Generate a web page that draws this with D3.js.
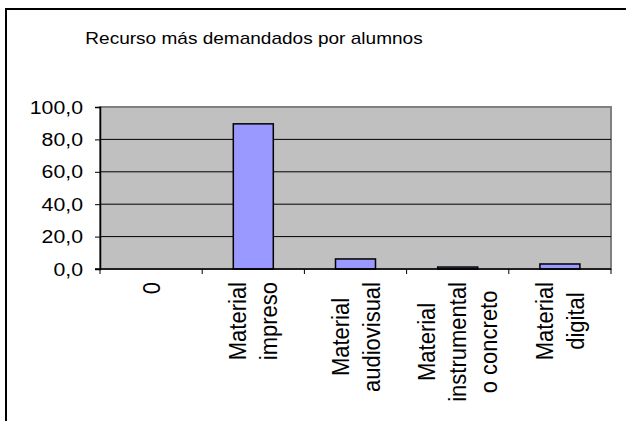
<!DOCTYPE html>
<html>
<head>
<meta charset="utf-8">
<script src="https://cdn.jsdelivr.net/npm/d3@7"></script>
<style>
  body { margin: 0; background: #fff; }
  text { font-family: "Liberation Sans", Arial, sans-serif; fill: #000; }
</style>
</head>
<body>
<script>
var title = "Recurso más demandados por alumnos";
var categories = ["0", "Material\nimpreso", "Material\naudiovisual", "Material\ninstrumental\no concreto", "Material\ndigital"];
var values = [0, 89.6, 6.2, 1.2, 3.1];
var yTicks = [0, 20, 40, 60, 80, 100];

draw();

function draw() {
    var width = 626, height = 421;
    var plot = {left: 100, right: 611, top: 107, bottom: 269};
    var stretch = 1.12; // text in the reference is a bit wider than tall

    var svg = d3.select("body").append("svg")
        .attr("width", width)
        .attr("height", height);

    // outer chart frame (only top and left visible in crop)
    svg.append("line").attr("x1", 5).attr("x2", 626).attr("y1", 9).attr("y2", 9)
        .attr("stroke", "#000").attr("stroke-width", 2);
    svg.append("line").attr("x1", 6).attr("x2", 6).attr("y1", 9).attr("y2", 421)
        .attr("stroke", "#000").attr("stroke-width", 2);

    svg.append("text")
        .attr("transform", "translate(254,44) scale(" + stretch + ",1)")
        .attr("text-anchor", "middle")
        .style("font-size", "17px")
        .text(title);

    var x = d3.scaleBand()
        .domain(categories)
        .range([plot.left, plot.right])
        .paddingInner(0)
        .paddingOuter(0);

    var y = d3.scaleLinear()
        .domain([0, 100])
        .range([plot.bottom, plot.top]);

    svg.append("rect")
        .attr("x", plot.left).attr("y", plot.top)
        .attr("width", plot.right - plot.left)
        .attr("height", plot.bottom - plot.top)
        .attr("fill", "#c0c0c0")
        .attr("stroke", "#808080")
        .attr("stroke-width", 2);

    svg.selectAll(".grid")
        .data(yTicks.filter(function (d) { return d > 0 && d < 100; }))
        .enter().append("line")
        .attr("x1", plot.left).attr("x2", plot.right)
        .attr("y1", function (d) { return y(d); })
        .attr("y2", function (d) { return y(d); })
        .attr("stroke", "#000").attr("stroke-width", 1);

    var barW = 40;
    svg.selectAll(".bar")
        .data(values)
        .enter().append("rect")
        .attr("x", function (d, i) { return x(categories[i]) + x.bandwidth() / 2 - barW / 2; })
        .attr("y", function (d) { return y(d); })
        .attr("width", barW)
        .attr("height", function (d) { return y(0) - y(d); })
        .attr("fill", "#9999ff")
        .attr("stroke", "#000")
        .attr("stroke-width", 1.5)
        .style("display", function (d) { return d > 0 ? null : "none"; });

    // y axis (labels drawn separately so they can be stretched)
    var yAxis = d3.axisLeft(y)
        .tickValues(yTicks)
        .tickSize(5)
        .tickFormat("");
    var gy = svg.append("g")
        .attr("transform", "translate(" + plot.left + ",0)")
        .call(yAxis);
    gy.select(".domain").attr("stroke", "#000").attr("stroke-width", 1.5);
    gy.selectAll(".tick line").attr("stroke", "#000");

    svg.selectAll(".ylab")
        .data(yTicks)
        .enter().append("text")
        .attr("transform", function (d) { return "translate(83," + y(d) + ") scale(" + stretch + ",1)"; })
        .attr("dy", "0.35em")
        .attr("text-anchor", "end")
        .style("font-size", "19px")
        .text(function (d) { return d3.format(".1f")(d).replace(".", ","); });

    // x axis with ticks at band boundaries
    var gx = svg.append("g");
    gx.append("line")
        .attr("x1", plot.left - 5).attr("x2", plot.right)
        .attr("y1", plot.bottom).attr("y2", plot.bottom)
        .attr("stroke", "#000").attr("stroke-width", 1.5);
    var bounds = categories.map(function (c) { return x(c); }).concat([plot.right]);
    gx.selectAll(".xt")
        .data(bounds)
        .enter().append("line")
        .attr("x1", function (d) { return d; }).attr("x2", function (d) { return d; })
        .attr("y1", plot.bottom).attr("y2", plot.bottom + 5)
        .attr("stroke", "#000");

    var lh = 31 / stretch, fs = 22, labelTop = 282;
    categories.forEach(function (c) {
        var lines = c.split("\n");
        var cx = x(c) + x.bandwidth() / 2;
        var g = svg.append("g")
            .attr("transform", "translate(" + cx + "," + labelTop + ") rotate(-90) scale(1," + stretch + ")");
        var texts = lines.map(function (l, i) {
            return g.append("text")
                .style("font-size", fs + "px")
                .attr("text-anchor", "middle")
                .attr("y", (i - (lines.length - 1) / 2) * lh)
                .attr("dy", "0.35em")
                .text(l);
        });
        var maxLen = d3.max(texts, function (t) { return t.node().getComputedTextLength(); });
        texts.forEach(function (t) { t.attr("x", -maxLen / 2); });
    });
}
</script>
</body>
</html>
